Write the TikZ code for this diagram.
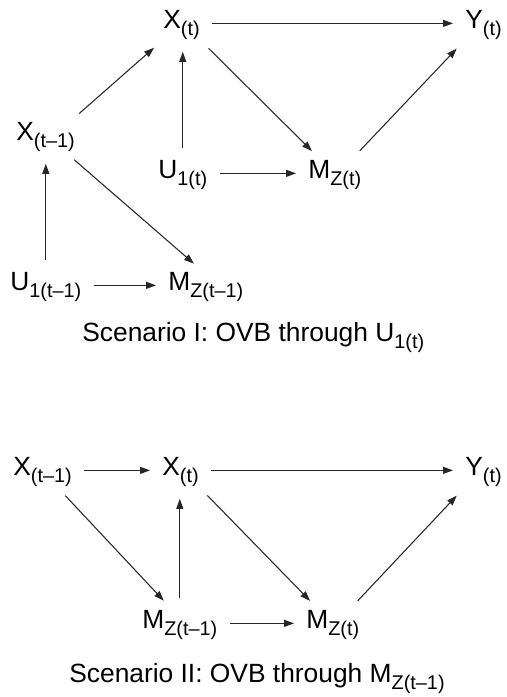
\documentclass[tikz,border=0pt]{standalone}
\usepackage{fontspec}
\setmainfont{Liberation Sans}
\usepackage{tikz}
\usetikzlibrary{arrows.meta}

% subscript as set in the figure: smaller and lowered
\newcommand{\lowsub}[1]{\raisebox{-0.28em}{\fontsize{11.3}{11}\selectfont #1}}

\begin{document}
\begin{tikzpicture}[
  font=\fontsize{15}{17}\selectfont,
  >={Triangle[length=2mm, width=1.4mm]},
  var/.style={inner sep=0pt, anchor=base west},
  arr/.style={->, semithick, draw=black!85, shorten <=2.4mm, shorten >=2.4mm},
  caption/.style={inner sep=0pt, anchor=base west}
]
\useasboundingbox (0,0) rectangle (10.12,-13.94);

% Scenario I
\node[var] (xt)  at (3.26,-0.56) {X\lowsub{(t)}};
\node[var] (yt)  at (9.30,-0.56) {Y\lowsub{(t)}};
\node[var] (xtm) at (0.32,-2.80) {X\lowsub{(t--1)}};
\node[var] (ut)  at (3.16,-3.56) {U\lowsub{1(t)}};
\node[var] (mt)  at (6.16,-3.56) {M\lowsub{Z(t)}};
\node[var] (utm) at (0.20,-5.80) {U\lowsub{1(t--1)}};
\node[var] (mtm) at (3.36,-5.80) {M\lowsub{Z(t--1)}};
\node[caption] (capa) at (1.64,-6.82) {Scenario I: OVB through U\lowsub{1(t)}};

\draw[arr] (xt.mid east) -- (yt.mid west);
\draw[arr] ([xshift=-1mm]xtm.north east) -- (xt.south west);
\draw[arr] (ut.north) -- (ut.north |- xt.south);
\draw[arr] (xt.south east) -- ([xshift=2.5mm]mt.north west);
\draw[arr] ([xshift=-2mm]mt.north east) -- (yt.south west);
\draw[arr] (ut.mid east) -- (mt.mid west);
\draw[arr] (utm.north) -- (utm.north |- xtm.south);
\draw[arr] ([xshift=-2mm]xtm.south east) -- ([xshift=7mm]mtm.north west);
\draw[arr] (utm.mid east) -- (mtm.mid west);

% Scenario II
\node[var] (bxtm) at (0.26,-9.50)  {X\lowsub{(t--1)}};
\node[var] (bxt)  at (3.24,-9.50)  {X\lowsub{(t)}};
\node[var] (byt)  at (9.30,-9.50)  {Y\lowsub{(t)}};
\node[var] (bmtm) at (2.84,-12.56) {M\lowsub{Z(t--1)}};
\node[var] (bmt)  at (6.12,-12.56) {M\lowsub{Z(t)}};
\node[caption] (capb) at (1.38,-13.64) {Scenario II: OVB through M\lowsub{Z(t--1)}};

\draw[arr] (bxtm.mid east) -- (bxt.mid west);
\draw[arr] (bxt.mid east) -- (byt.mid west);
\draw[arr] ([xshift=-3mm]bxtm.south east) -- ([xshift=6mm]bmtm.north west);
\draw[arr] (bmtm.north) -- (bmtm.north |- bxt.south);
\draw[arr] (bxt.south east) -- ([xshift=2.5mm]bmt.north west);
\draw[arr] ([xshift=-2mm]bmt.north east) -- (byt.south west);
\draw[arr] (bmtm.mid east) -- (bmt.mid west);
\end{tikzpicture}
\end{document}
